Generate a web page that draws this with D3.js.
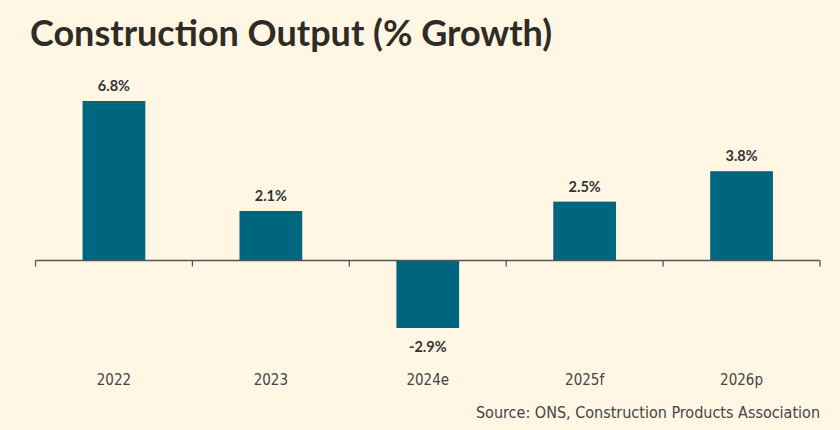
<!DOCTYPE html>
<html><head><meta charset="utf-8">
<script src="https://cdn.jsdelivr.net/npm/d3@7"></script>
<style>
html,body{margin:0;padding:0;background:#FFF7E4;}
svg{display:block;}
</style></head>
<body>
<svg id="chart" width="840" height="430"></svg>
<script>
const categories = ["2022", "2023", "2024e", "2025f", "2026p"];
const values = [6.8, 2.1, -2.9, 2.5, 3.8];
const valueLabels = ["6.8%", "2.1%", "-2.9%", "2.5%", "3.8%"];
const title = "Construction Output (% Growth)";
const source = "Source: ONS, Construction Products Association";

const svg = d3.select("#chart");
svg.append("rect").attr("width", 840).attr("height", 430).attr("fill", "#FFF7E4");

const x = d3.scaleBand().domain(categories).range([35.5, 820]).paddingInner(0.6).paddingOuter(0.3);
const y = d3.scaleLinear().domain([-2.9, 6.8]).range([328, 101]);

svg.append("text").attr("x", 30).attr("y", 46)
  .attr("font-family", "Lato, 'Open Sans', sans-serif").attr("font-weight", 700)
  .attr("font-size", 36).attr("fill", "#2f2c26").text(title);

svg.selectAll("rect.bar").data(values).join("rect").attr("class", "bar")
  .attr("x", (d, i) => x(categories[i]))
  .attr("width", x.bandwidth())
  .attr("y", d => y(Math.max(0, d)))
  .attr("height", d => Math.abs(y(d) - y(0)))
  .attr("fill", "#00667F");

// axis
const y0 = Math.round(y(0)) + 0.5;
const ax = svg.append("g");
ax.append("line").attr("x1", 35.5).attr("x2", 820).attr("y1", y0).attr("y2", y0)
  .attr("stroke", "#555").attr("stroke-width", 1.3);
const tickXs = d3.range(categories.length + 1).map(i => 35.5 + i * (820 - 35.5) / categories.length);
ax.selectAll("line.tick").data(tickXs).join("line").attr("class", "tick")
  .attr("x1", d => d).attr("x2", d => d).attr("y1", y0).attr("y2", y0 + 6)
  .attr("stroke", "#555").attr("stroke-width", 1.3);

svg.selectAll("text.val").data(values).join("text").attr("class", "val")
  .attr("x", (d, i) => x(categories[i]) + x.bandwidth() / 2)
  .attr("y", d => d >= 0 ? y(d) - 10 : y(d) + 24)
  .attr("text-anchor", "middle")
  .attr("font-family", "Lato, 'Open Sans', sans-serif").attr("font-weight", 700)
  .attr("font-size", 14.5).attr("fill", "#333")
  .text((d, i) => valueLabels[i]);

svg.selectAll("text.cat").data(categories).join("text").attr("class", "cat")
  .attr("x", d => x(d) + x.bandwidth() / 2).attr("y", 385)
  .attr("text-anchor", "middle")
  .attr("font-family", "'Liberation Sans Narrow', 'DejaVu Sans Condensed', sans-serif")
  .attr("font-size", 15).attr("fill", "#444").text(d => d);

svg.append("text").attr("x", 820).attr("y", 418).attr("text-anchor", "end")
  .attr("font-family", "'Liberation Sans Narrow', 'DejaVu Sans Condensed', sans-serif")
  .attr("font-size", 16).attr("fill", "#444").text(source);
</script>
</body></html>
